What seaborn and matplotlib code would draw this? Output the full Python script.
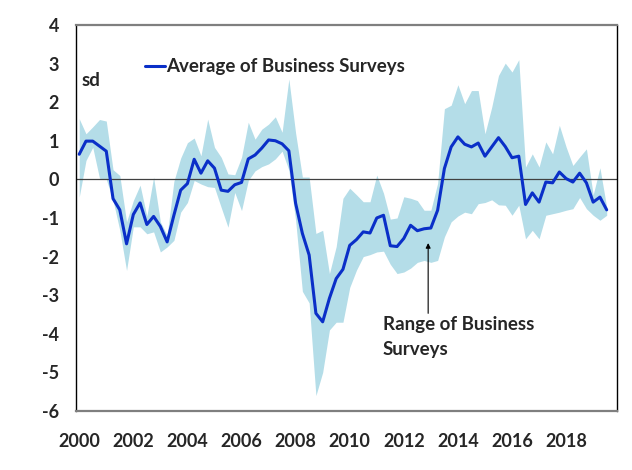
import numpy as np
import pandas as pd
import matplotlib
matplotlib.use('Agg')
import matplotlib.pyplot as plt
import seaborn as sns

# quarterly data 2000Q1 - 2019Q3
quarters = pd.period_range('2000Q1', '2019Q3', freq='Q')

avg = [0.65, 0.99, 0.99, 0.86, 0.73, -0.50, -0.79, -1.67, -0.91, -0.61,
       -1.17, -0.96, -1.22, -1.62, -0.93, -0.28, -0.11, 0.52, 0.16, 0.48,
       0.29, -0.28, -0.31, -0.14, -0.08, 0.53, 0.63, 0.81, 1.02, 1.00,
       0.92, 0.74, -0.62, -1.40, -1.96, -3.47, -3.69, -3.08, -2.57, -2.33,
       -1.71, -1.56, -1.36, -1.39, -1.00, -0.93, -1.72, -1.74, -1.53, -1.19,
       -1.33, -1.28, -1.26, -0.80, 0.28, 0.84, 1.10, 0.91, 0.84, 0.94,
       0.60, 0.84, 1.08, 0.85, 0.56, 0.60, -0.65, -0.35, -0.59, -0.07,
       -0.09, 0.19, 0.02, -0.07, 0.16, -0.09, -0.59, -0.46, -0.79]

upper = [1.57, 1.18, 1.36, 1.55, 1.51, 0.25, 0.10, -1.10, -0.55, -0.15,
         -0.95, 0.06, -1.10, -1.45, -0.05, 0.55, 0.95, 1.07, 0.61, 1.56,
         0.83, 0.57, 0.14, 0.12, 0.57, 1.48, 1.04, 1.30, 1.43, 1.62,
         1.22, 2.60, 1.20, 0.06, 0.06, -1.40, -1.32, -2.44, -1.74, -0.49,
         -0.23, -0.40, -0.58, -0.58, 0.11, -0.36, -1.03, -1.00, -0.45, -0.49,
         -0.55, -0.80, -0.80, -0.10, 1.83, 1.92, 2.45, 1.96, 2.30, 2.30,
         1.18, 1.87, 2.69, 3.01, 2.78, 3.10, 0.32, 0.66, 0.32, 0.97,
         0.66, 1.40, 0.84, 0.36, 0.58, 0.79, -0.40, 0.30, -0.72]

lower = [-0.46, 0.49, 0.83, 0.03, 0.00, -0.54, -1.32, -2.36, -1.23, -1.23,
         -1.41, -1.36, -1.88, -1.75, -1.58, -0.85, -0.60, -0.03, -0.12, -0.19,
         -0.21, -0.73, -1.24, -0.34, -0.81, -0.03, 0.22, 0.33, 0.40, 0.53,
         0.73, 0.24, -1.06, -2.90, -3.20, -5.60, -5.00, -3.90, -3.70, -3.70,
         -2.80, -2.35, -2.00, -1.95, -1.88, -1.86, -2.20, -2.44, -2.40, -2.30,
         -2.15, -2.10, -2.15, -2.10, -1.49, -1.10, -0.95, -0.85, -0.89, -0.63,
         -0.60, -0.53, -0.66, -0.67, -0.93, -0.67, -1.54, -1.32, -1.54, -0.93,
         -0.89, -0.85, -0.80, -0.76, -0.47, -0.76, -0.93, -1.06, -0.93]

year_ticks = list(range(2000, 2019, 2))
y_ticks = list(range(-6, 5))

df = pd.DataFrame({
    'date': quarters.year + (quarters.quarter - 1) / 4,
    'avg': avg, 'upper': upper, 'lower': lower,
})

sns.set_style('white')
plt.rcParams['font.family'] = ['Lato', 'DejaVu Sans']

fig = plt.figure(figsize=(6.32, 4.70), dpi=100)
ax = fig.add_axes([0.120, 0.1255, 0.856, 0.8215])

ax.fill_between(df['date'], df['lower'], df['upper'], color='#b4dde8', lw=0, zorder=1)
ax.axhline(0, color='#404040', lw=0.9, zorder=2)
sns.lineplot(data=df, x='date', y='avg', ax=ax, color='#0a2fc8', lw=2.2,
             label='Average of Business Surveys', zorder=3)

ax.set_xlim(2000 - 0.125, 2019.875)
ax.set_ylim(-6, 4)
ax.set_xticks(year_ticks)
ax.set_xticklabels([str(y) for y in year_ticks], fontsize=13, fontweight='bold')
ax.set_yticks(y_ticks)
ax.set_yticklabels([str(y) for y in y_ticks], fontsize=13, fontweight='bold')
ax.tick_params(axis='both', length=0)
ax.tick_params(axis='x', pad=16)
ax.tick_params(axis='y', pad=12)
ax.set_xlabel('')
ax.set_ylabel('')

for side in ['left', 'right']:
    ax.spines[side].set_color('black')
    ax.spines[side].set_linewidth(1.0)
for side in ['top', 'bottom']:
    ax.spines[side].set_color('#7f7f7f')
    ax.spines[side].set_linewidth(1.6)

ax.legend(loc='center left', bbox_to_anchor=(0.1275, 0.891), frameon=False,
          prop={'weight': 'bold', 'size': 13.5},
          handlelength=1.1, handletextpad=0.05, borderpad=0, borderaxespad=0)

ax.text(0.011, 0.857, 'sd', transform=ax.transAxes, fontsize=13.5,
        fontweight='bold', va='center', ha='left')

ax.annotate('', xy=(2012.90, -1.65), xytext=(2012.90, -3.47),
            arrowprops=dict(arrowstyle='-|>', color='black', lw=0.8,
                            mutation_scale=7, shrinkA=0, shrinkB=0))
ax.text(2011.23, -4.09, 'Range of Business\nSurveys', fontsize=13.5,
        fontweight='bold', va='center', ha='left', linespacing=1.55)

fig.savefig('out.png', dpi=100)
